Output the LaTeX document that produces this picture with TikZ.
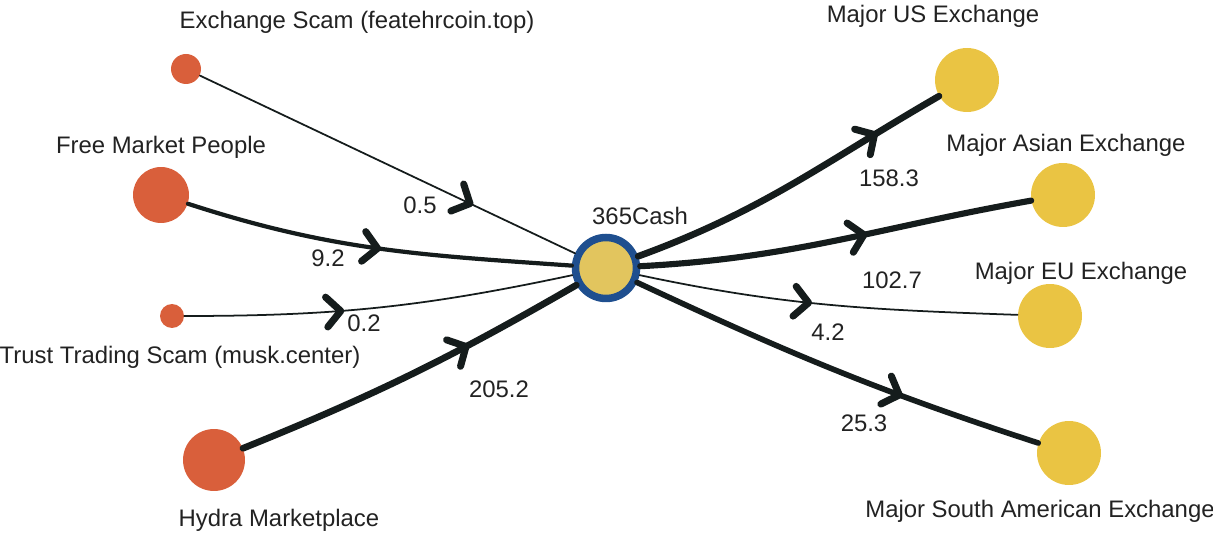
\documentclass[tikz,border=0pt]{standalone}
\usepackage{fontspec}
\setmainfont{Liberation Sans}
\usetikzlibrary{decorations.markings}
\definecolor{srcorange}{HTML}{D95F3B}
\definecolor{dstyellow}{HTML}{EAC443}
\definecolor{hubyellow}{HTML}{E2C55E}
\definecolor{hubblue}{HTML}{1F4F8F}
\definecolor{flowink}{HTML}{151C1C}
\definecolor{textink}{HTML}{222222}

\begin{document}
\begin{tikzpicture}[
x=0.02cm,y=0.02cm,
font=\fontsize{13.6}{16}\selectfont,
src/.style={circle,fill=srcorange,inner sep=0pt,minimum size=#1},
dst/.style={circle,fill=dstyellow,inner sep=0pt,minimum size=1.28cm},
hub/.style={circle,fill=hubyellow,draw=hubblue,line width=0.15cm,inner sep=0pt,minimum size=1.22cm},
lbl/.style={text=textink,inner sep=1pt},
flow/.style={draw=flowink,line width=#1,line cap=round},
midarrow/.style={postaction={decorate},decoration={markings,
  mark=at position #1 with {\draw[flowink,line width=4pt,line cap=round,line join=round]
    (-8pt,8.5pt) -- (0pt,0pt) -- (-8pt,-8.5pt);}}}]
\useasboundingbox (0,0) rectangle (1213,534);

% sources
\node[src=0.6cm]  (exscam)  at (186,465) {};
\node[src=1.12cm] (freemkt) at (161,339) {};
\node[src=0.48cm] (trust)   at (172,218) {};
\node[src=1.24cm] (hydra)   at (214,74) {};
% hub
\node[hub] (cash) at (606,266) {};
% exchanges
\node[dst] (us)   at (967,454) {};
\node[dst] (asia) at (1063,339) {};
\node[dst] (eu)   at (1050,218) {};
\node[dst] (sa)   at (1069,81) {};

% names
\node[lbl] (exscamname)  at (357,512) {Exchange Scam (featehrcoin.top)};
\node[lbl] (freemktname) at (161,387) {Free Market People};
\node[lbl] (trustname)   at (180,177) {Trust Trading Scam (musk.center)};
\node[lbl] (hydraname)   at (279,14)  {Hydra Marketplace};
\node[lbl] (cashname)    at (640,318) {365Cash};
\node[lbl] (usname)      at (933,518) {Major US Exchange};
\node[lbl] (asianame)    at (1066,389) {Major Asian Exchange};
\node[lbl] (euname)      at (1081,261) {Major EU Exchange};
\node[lbl] (saname)      at (1040,23) {Major South American Exchange};

% flows in
\draw[flow=1pt,midarrow=0.72] (exscam) -- (cash);
\draw[flow=2.4pt,midarrow=0.5] (freemkt) to[out=-18,in=176] (cash);
\draw[flow=1pt,midarrow=0.4] (trust) to[out=0,in=192] (cash);
\draw[flow=3.8pt,midarrow=0.66] (hydra) to[out=22,in=210] (cash);
% flows out
\draw[flow=3.8pt,midarrow=0.78] (cash) to[out=20,in=210] (us);
\draw[flow=3.5pt,midarrow=0.57] (cash) to[out=3,in=190] (asia);
\draw[flow=1pt,midarrow=0.45] (cash) to[out=-12,in=178] (eu);
\draw[flow=3.2pt,midarrow=0.66] (cash) to[out=-25,in=162] (sa);

% amounts
\node[lbl] (v05)   at (420,329) {0.5};
\node[lbl] (v92)   at (328,276) {9.2};
\node[lbl] (v02)   at (364,211) {0.2};
\node[lbl] (v2052) at (499,145) {205.2};
\node[lbl] (v1583) at (889,356) {158.3};
\node[lbl] (v1027) at (892,254) {102.7};
\node[lbl] (v42)   at (828,202) {4.2};
\node[lbl] (v253)  at (864,111) {25.3};
\end{tikzpicture}
\end{document}
